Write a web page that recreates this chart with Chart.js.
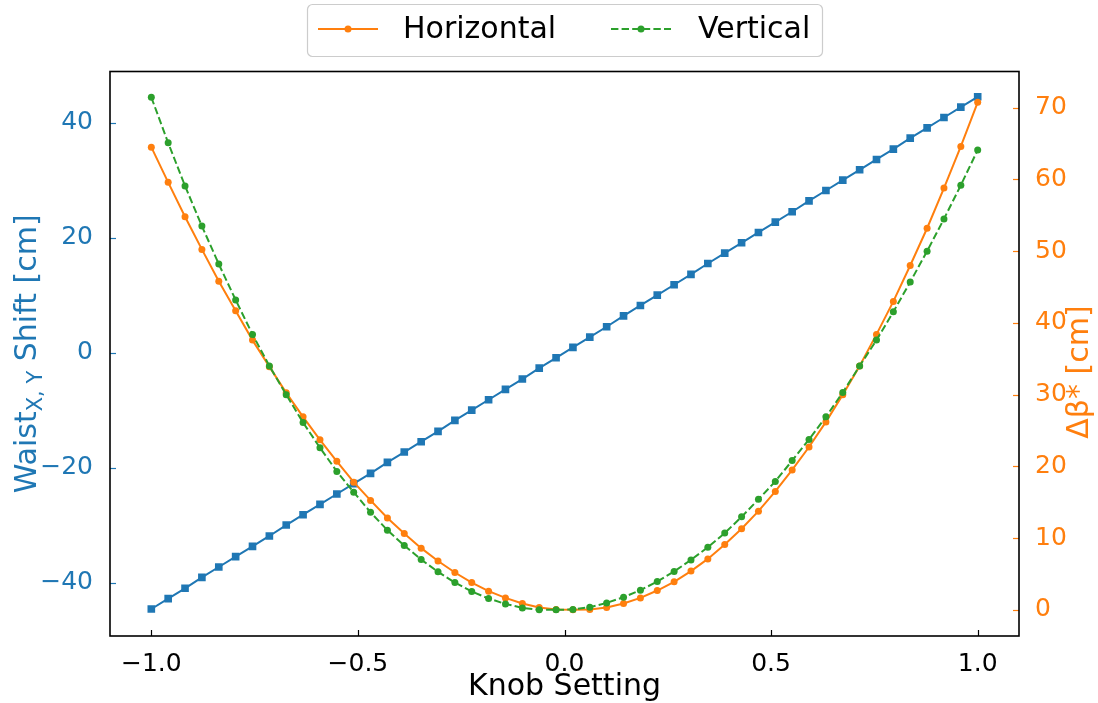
<!DOCTYPE html>
<html><head><meta charset="utf-8">
<script src="https://cdn.jsdelivr.net/npm/chart.js@4.4.1/dist/chart.umd.min.js"></script>
<style>html,body{margin:0;padding:0;background:#fff;overflow:hidden}#wrap{width:1098px;height:703px;position:relative}</style>
</head><body><div id="wrap"><canvas id="c" width="1098" height="703"></canvas></div>
<script>
// ---- data ----
const knob = [-1.0,-0.9592,-0.9184,-0.8776,-0.8367,-0.7959,-0.7551,-0.7143,-0.6735,-0.6327,
  -0.5918,-0.5510,-0.5102,-0.4694,-0.4286,-0.3878,-0.3469,-0.3061,-0.2653,-0.2245,
  -0.1837,-0.1429,-0.1020,-0.0612,-0.0204,0.0204,0.0612,0.1020,0.1429,0.1837,
  0.2245,0.2653,0.3061,0.3469,0.3878,0.4286,0.4694,0.5102,0.5510,0.5918,
  0.6327,0.6735,0.7143,0.7551,0.7959,0.8367,0.8776,0.9184,0.9592,1.0];
const waistShift = [-44.6,-42.8,-41.0,-39.1,-37.3,-35.5,-33.7,-31.9,-30.0,-28.2,
  -26.4,-24.6,-22.8,-21.0,-19.1,-17.3,-15.5,-13.7,-11.8,-10.0,
  -8.2,-6.4,-4.6,-2.7,-0.9,0.9,2.7,4.5,6.4,8.2,
  10.0,11.8,13.6,15.5,17.3,19.1,20.9,22.7,24.5,26.4,
  28.2,30.0,31.8,33.6,35.4,37.3,39.1,40.9,42.7,44.5];
const dBetaHorizontal = [64.5,59.6,54.8,50.25,45.8,41.7,37.6,33.9,30.25,26.9,
  23.7,20.7,17.8,15.25,12.8,10.65,8.6,6.8,5.2,3.8,
  2.6,1.66,0.88,0.32,0.05,0.0,0.05,0.32,0.88,1.66,
  2.69,3.9,5.4,7.1,9.1,11.3,13.75,16.5,19.5,22.7,
  26.2,30.0,34.0,38.4,43.0,48.0,53.2,58.8,64.6,70.75];
const dBetaVertical = [71.45,65.1,59.1,53.5,48.2,43.2,38.4,34.0,30.0,26.1,
  22.6,19.3,16.4,13.6,11.1,8.97,7.0,5.3,3.8,2.55,
  1.58,0.82,0.27,0.0,0.0,0.05,0.36,0.96,1.76,2.73,
  3.95,5.34,6.96,8.73,10.7,12.96,15.4,17.9,20.8,23.75,
  26.9,30.3,34.0,37.6,41.55,45.7,50.0,54.5,59.2,64.1];
const seriesLabels = ['Horizontal','Vertical'];
const xTicks = [-1.0,-0.5,0.0,0.5,1.0];
const leftTicks = [-40,-20,0,20,40];
const rightTicks = [0,10,20,30,40,50,60,70];
const xTitle = 'Knob Setting';
const leftTitle = ['Waist','X, Y',' Shift [cm]'];
const rightTitle = 'Δβ* [cm]';

const BLUE='#1f77b4', ORANGE='#ff7f0e', GREEN='#2ca02c';
const FONT='DejaVu Sans';
const TICK_PX=25, LABEL_PX=30, LEGEND_PX=30;

function pts(ys){return knob.map((x,i)=>({x:x,y:ys[i]}));}
function fmt(v,d){const s=Math.abs(v).toFixed(d);return (v<0?'\u2212':'')+s;}

const deco = {
  id:'deco',
  afterDraw(chart){
    const ctx=chart.ctx, a=chart.chartArea;
    const sx=chart.scales.x, sy=chart.scales.y, sy1=chart.scales.y1;
    ctx.save();
    // inward ticks
    ctx.lineWidth=1.2;
    function seg(x1,y1,x2,y2,c){ctx.strokeStyle=c;ctx.beginPath();ctx.moveTo(x1,y1);ctx.lineTo(x2,y2);ctx.stroke();}
    xTicks.forEach(v=>{const p=Math.round(sx.getPixelForValue(v))+0.5;seg(p,a.bottom,p,a.bottom-6,'#000');});
    leftTicks.forEach(v=>{const p=Math.round(sy.getPixelForValue(v))+0.5;seg(a.left,p,a.left+6,p,BLUE);});
    rightTicks.forEach(v=>{const p=Math.round(sy1.getPixelForValue(v))+0.5;seg(a.right,p,a.right-6,p,ORANGE);});
    // frame
    ctx.strokeStyle='#000';ctx.lineWidth=1.6;
    ctx.strokeRect(a.left,a.top,a.right-a.left,a.bottom-a.top);
    // x title
    ctx.fillStyle='#000';ctx.font=LABEL_PX+'px "'+FONT+'"';
    ctx.textAlign='center';ctx.textBaseline='middle';
    ctx.fillText(xTitle,(a.left+a.right)/2,687);
    // left title with subscript
    const cy=(a.top+a.bottom)/2;
    ctx.save();ctx.translate(25,cy);ctx.rotate(-Math.PI/2);
    ctx.fillStyle=BLUE;ctx.textAlign='left';ctx.textBaseline='alphabetic';
    const mainF=LABEL_PX+'px "'+FONT+'"', subF=Math.round(LABEL_PX*0.7)+'px "'+FONT+'"';
    ctx.font=mainF;const w1=ctx.measureText(leftTitle[0]).width;const w3=ctx.measureText(leftTitle[2]).width;
    ctx.font=subF;const w2=ctx.measureText(leftTitle[1]).width;
    let x0=-(w1+w2+w3)/2; const base=LABEL_PX*0.36;
    ctx.font=mainF;ctx.fillText(leftTitle[0],x0,base);x0+=w1;
    ctx.font=subF;ctx.fillText(leftTitle[1],x0,base+LABEL_PX*0.2);x0+=w2;
    ctx.font=mainF;ctx.fillText(leftTitle[2],x0,base);
    ctx.restore();
    // right title
    ctx.save();ctx.translate(1080,372);ctx.rotate(-Math.PI/2);
    ctx.fillStyle=ORANGE;ctx.font=LABEL_PX+'px "'+FONT+'"';ctx.textAlign='center';ctx.textBaseline='middle';
    ctx.fillText(rightTitle,0,0);
    ctx.restore();
    // legend
    const bx=307,by=4,bw=515,bh=52;
    ctx.beginPath();ctx.roundRect(bx+0.5,by+0.5,bw,bh,5);
    ctx.fillStyle='rgba(255,255,255,0.8)';ctx.fill();
    ctx.strokeStyle='#cccccc';ctx.lineWidth=1.2;ctx.stroke();
    const entries=[{ds:chart.data.datasets[1],x:318,tx:403},{ds:chart.data.datasets[2],x:611,tx:698}];
    const ly=29;
    entries.forEach(e=>{
      ctx.strokeStyle=e.ds.borderColor;ctx.lineWidth=e.ds.borderWidth;
      ctx.setLineDash(e.ds.borderDash||[]);
      ctx.beginPath();ctx.moveTo(e.x,ly);ctx.lineTo(e.x+60,ly);ctx.stroke();
      ctx.setLineDash([]);
      ctx.fillStyle=e.ds.pointBackgroundColor;ctx.beginPath();ctx.arc(e.x+30,ly,e.ds.pointRadius,0,Math.PI*2);ctx.fill();
      ctx.fillStyle='#000';ctx.font=LEGEND_PX+'px "'+FONT+'"';ctx.textAlign='left';ctx.textBaseline='middle';
      ctx.fillText(e.ds.label,e.tx,ly+1);
    });
    ctx.restore();
  }
};

new Chart(document.getElementById('c'),{
  type:'line',
  data:{datasets:[
    {label:'Waist shift',data:pts(waistShift),yAxisID:'y',borderColor:BLUE,backgroundColor:BLUE,
     pointBackgroundColor:BLUE,pointBorderColor:BLUE,pointStyle:'rect',pointRadius:5.4,pointBorderWidth:0,borderWidth:2,order:3},
    {label:seriesLabels[0],data:pts(dBetaHorizontal),yAxisID:'y1',borderColor:ORANGE,backgroundColor:ORANGE,
     pointBackgroundColor:ORANGE,pointBorderColor:ORANGE,pointStyle:'circle',pointRadius:3.5,pointBorderWidth:0,borderWidth:2,order:2},
    {label:seriesLabels[1],data:pts(dBetaVertical),yAxisID:'y1',borderColor:GREEN,backgroundColor:GREEN,
     pointBackgroundColor:GREEN,pointBorderColor:GREEN,pointStyle:'circle',pointRadius:3.5,pointBorderWidth:0,borderWidth:2,borderDash:[7.4,3.2],order:1}
  ]},
  options:{
    responsive:false,animation:false,devicePixelRatio:1,
    layout:{padding:{top:71.5,left:0,right:0,bottom:0}},
    plugins:{legend:{display:false},tooltip:{enabled:false}},
    elements:{line:{tension:0}},
    scales:{
      x:{type:'linear',position:'bottom',min:-1.1,max:1.1,
        grid:{display:false},border:{display:false},
        afterBuildTicks:s=>{s.ticks=xTicks.map(v=>({value:v}));},
        afterFit:s=>{s.height=67;},
        ticks:{color:'#000',font:{family:FONT,size:TICK_PX},padding:5,maxRotation:0,autoSkip:false,callback:v=>fmt(v,1)}},
      y:{type:'linear',position:'left',min:-49.3,max:48.9,
        grid:{display:false},border:{display:false},
        afterBuildTicks:s=>{s.ticks=leftTicks.map(v=>({value:v}));},
        afterFit:s=>{s.width=110;},
        ticks:{color:BLUE,font:{family:FONT,size:TICK_PX},padding:9,autoSkip:false,callback:v=>fmt(v,0)}},
      y1:{type:'linear',position:'right',min:-3.65,max:75.05,
        grid:{display:false},border:{display:false},
        afterBuildTicks:s=>{s.ticks=rightTicks.map(v=>({value:v}));},
        afterFit:s=>{s.width=79;},
        ticks:{color:ORANGE,font:{family:FONT,size:TICK_PX},padding:8,autoSkip:false,callback:v=>fmt(v,0)}}
    }
  },
  plugins:[deco]
});
</script></body></html>
